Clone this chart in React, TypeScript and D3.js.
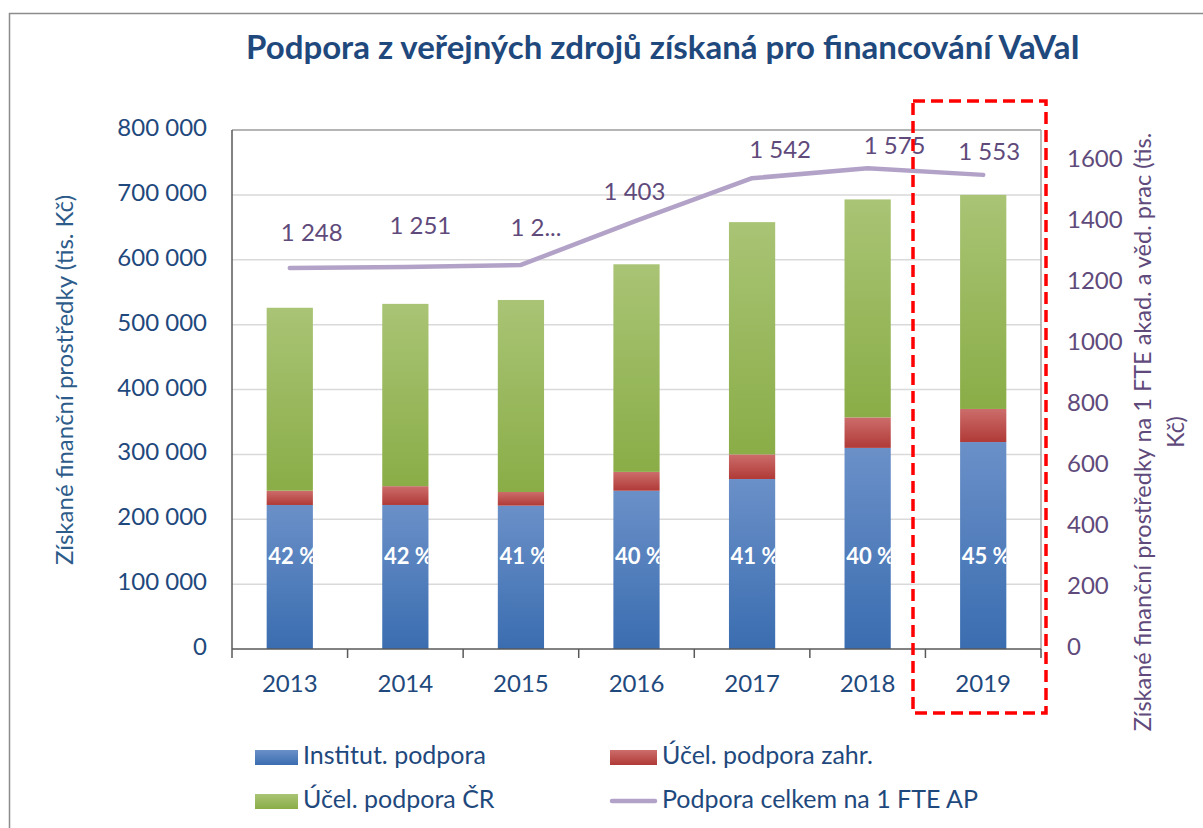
import React from 'react';
import * as d3 from 'd3';

// Data (tis. Kč)
const years = ['2013', '2014', '2015', '2016', '2017', '2018', '2019'];
const institut = [222000, 222000, 221000, 244000, 262000, 310000, 319000];
const ucelZahr = [22000, 29000, 21000, 29000, 38000, 47000, 51000];
const ucelCR = [282000, 281000, 296000, 320000, 358000, 336000, 330000];
const pctLabels = ['42 %', '42 %', '41 %', '40 %', '41 %', '40 %', '45 %'];
const perFte = [1248, 1251, 1258, 1403, 1542, 1575, 1553];
const perFteLabels = ['1 248', '1 251', '1 2...', '1 403', '1 542', '1 575', '1 553'];
const leftTicks = [0, 100000, 200000, 300000, 400000, 500000, 600000, 700000, 800000];
const rightTicks = [0, 200, 400, 600, 800, 1000, 1200, 1400, 1600];

// label nudges (Excel labels were moved by hand)
const lblDx = [22, 15, 15, -2, 28, 27, 6];
const lblDy = [-33, -39, -35, -27, -26, -20, -21];

const W = 1203;
const H = 828;
const plot = { left: 232, right: 1041, top: 130, bottom: 649 };
const font = "Lato, 'Open Sans', sans-serif";
const blueText = '#1f497d';
const purpleText = '#604a7b';

const seriesKeys = ['institut', 'zahr', 'cr'];
const seriesFill = { institut: 'url(#gBlue)', zahr: 'url(#gRed)', cr: 'url(#gGreen)' };

const fmt = (v: number) => d3.format(',')(v).replace(/,/g, ' ');

export default function App() {
  const rows = years.map((y, i) => ({
    year: y,
    institut: institut[i],
    zahr: ucelZahr[i],
    cr: ucelCR[i],
  }));

  const x = d3.scaleBand().domain(years).range([plot.left, plot.right]).paddingInner(0.6).paddingOuter(0.3);
  const yL = d3.scaleLinear().domain([0, 800000]).range([plot.bottom, plot.top]);
  const yR = d3.scaleLinear().domain([0, 1700]).range([plot.bottom, plot.top]);
  const stacked = d3.stack<any>().keys(seriesKeys)(rows);
  const step = x.step();
  const cx = (y: string) => (x(y) as number) + x.bandwidth() / 2;

  const line = d3
    .line<number>()
    .x((_, i) => cx(years[i]))
    .y((d) => yR(d));

  const boundaries = d3.range(years.length + 1).map((i) => plot.left + i * step);

  return (
    <svg width={W} height={H} style={{ position: 'absolute', left: 0, top: 0, background: '#fff' }} fontFamily={font}>
      <defs>
        <linearGradient id="gBlue" x1="0" y1="0" x2="0" y2="1">
          <stop offset="0" stopColor="#6b90c8" />
          <stop offset="1" stopColor="#3a6db0" />
        </linearGradient>
        <linearGradient id="gRed" x1="0" y1="0" x2="0" y2="1">
          <stop offset="0" stopColor="#cc6d6b" />
          <stop offset="1" stopColor="#b03a37" />
        </linearGradient>
        <linearGradient id="gGreen" x1="0" y1="0" x2="0" y2="1">
          <stop offset="0" stopColor="#a9c475" />
          <stop offset="1" stopColor="#8aad47" />
        </linearGradient>
        {years.map((y, i) => (
          <clipPath id={`clip${i}`} key={y}>
            <rect x={x(y)} y={plot.top} width={x.bandwidth()} height={plot.bottom - plot.top} />
          </clipPath>
        ))}
      </defs>

      {/* chart frame */}
      <rect x={9.5} y={13.5} width={W + 20} height={H + 20} fill="none" stroke="#8c8c8c" strokeWidth={1.5} />

      {/* title */}
      <text x={663} y={51} textAnchor="middle" dominantBaseline="middle" fontSize={33} fontWeight="bold" fill={blueText}>
        Podpora z veřejných zdrojů získaná pro financování VaVaI
      </text>

      {/* gridlines */}
      {leftTicks.slice(1).map((t) => (
        <line key={t} x1={plot.left} x2={plot.right} y1={yL(t)} y2={yL(t)} stroke="#d9d9d9" strokeWidth={1.5} />
      ))}

      {/* plot border */}
      <line x1={plot.right} x2={plot.right} y1={plot.top} y2={plot.bottom} stroke="#a6a6a6" strokeWidth={1.5} />
      <line x1={plot.left} x2={plot.right} y1={plot.top} y2={plot.top} stroke="#a6a6a6" strokeWidth={1.5} />
      <line x1={plot.left} x2={plot.left} y1={plot.top} y2={plot.bottom} stroke="#595959" strokeWidth={1.5} />

      {/* bars */}
      {stacked.map((s) => (
        <g key={s.key} fill={(seriesFill as any)[s.key]}>
          {s.map((d, i) => (
            <rect key={i} x={x(years[i])} y={yL(d[1])} width={x.bandwidth()} height={yL(d[0]) - yL(d[1])} />
          ))}
        </g>
      ))}

      {/* percentage labels */}
      {years.map((y, i) => (
        <text
          key={y}
          clipPath={`url(#clip${i})`}
          x={cx(y) + 3}
          y={yL(140000)}
          textAnchor="middle"
          dominantBaseline="middle"
          fontSize={22}
          fontWeight="bold"
          fill="#fff"
        >
          {pctLabels[i]}
        </text>
      ))}

      {/* x axis */}
      <line x1={plot.left} x2={plot.right} y1={plot.bottom} y2={plot.bottom} stroke="#595959" strokeWidth={1.5} />
      {boundaries.map((b, i) => (
        <line key={i} x1={b} x2={b} y1={plot.bottom} y2={plot.bottom + 9} stroke="#595959" strokeWidth={1.5} />
      ))}
      {years.map((y) => (
        <text key={y} x={cx(y)} y={686} textAnchor="middle" dominantBaseline="middle" fontSize={24} fill={blueText}>
          {y}
        </text>
      ))}

      {/* left axis */}
      {leftTicks.map((t) => (
        <text key={t} x={207} y={yL(t)} textAnchor="end" dominantBaseline="middle" fontSize={24} fill={blueText}>
          {fmt(t)}
        </text>
      ))}
      <text
        transform={`translate(67,380) rotate(-90)`}
        textAnchor="middle"
        dominantBaseline="middle"
        fontSize={24}
        fill="#2e5c8a"
      >
        Získané finanční prostředky (tis. Kč)
      </text>

      {/* right axis */}
      {rightTicks.map((t) => (
        <text key={t} x={1067} y={yR(t)} textAnchor="start" dominantBaseline="middle" fontSize={24} fill={purpleText}>
          {t}
        </text>
      ))}
      <g transform="translate(1145,432) rotate(-90)" fontSize={23.5} fill={purpleText}>
        <text x={0} y={0} textAnchor="middle" dominantBaseline="middle">
          Získané finanční prostředky na 1 FTE akad. a věd. prac (tis.
        </text>
        <text x={0} y={33} textAnchor="middle" dominantBaseline="middle">
          Kč)
        </text>
      </g>

      {/* per-FTE line */}
      <path d={line(perFte) || ''} fill="none" stroke="#b3a2c7" strokeWidth={4.5} strokeLinecap="round" strokeLinejoin="round" />
      {perFte.map((v, i) => (
        <text
          key={i}
          x={cx(years[i]) + lblDx[i]}
          y={yR(v) + lblDy[i]}
          textAnchor="middle"
          dominantBaseline="middle"
          fontSize={24}
          fill={purpleText}
        >
          {perFteLabels[i]}
        </text>
      ))}

      {/* legend */}
      <g fontSize={25} fill={blueText}>
        <rect x={255} y={750} width={43} height={15} fill="url(#gBlue)" />
        <text x={303} y={758} dominantBaseline="middle">Institut. podpora</text>
        <rect x={610} y={750} width={47} height={15} fill="url(#gRed)" />
        <text x={662} y={758} dominantBaseline="middle">Účel. podpora zahr.</text>
        <rect x={255} y={794} width={43} height={15} fill="url(#gGreen)" />
        <text x={303} y={802} dominantBaseline="middle">Účel. podpora ČR</text>
        <line x1={612} x2={655} y1={801} y2={801} stroke="#b3a2c7" strokeWidth={4.5} strokeLinecap="round" />
        <text x={662} y={802} dominantBaseline="middle">Podpora celkem na 1 FTE AP</text>
      </g>

      {/* highlight of the last year */}
      <rect x={913} y={101} width={133} height={612} fill="none" stroke="#ff0000" strokeWidth={3.5} strokeDasharray="12 6" />
    </svg>
  );
}
